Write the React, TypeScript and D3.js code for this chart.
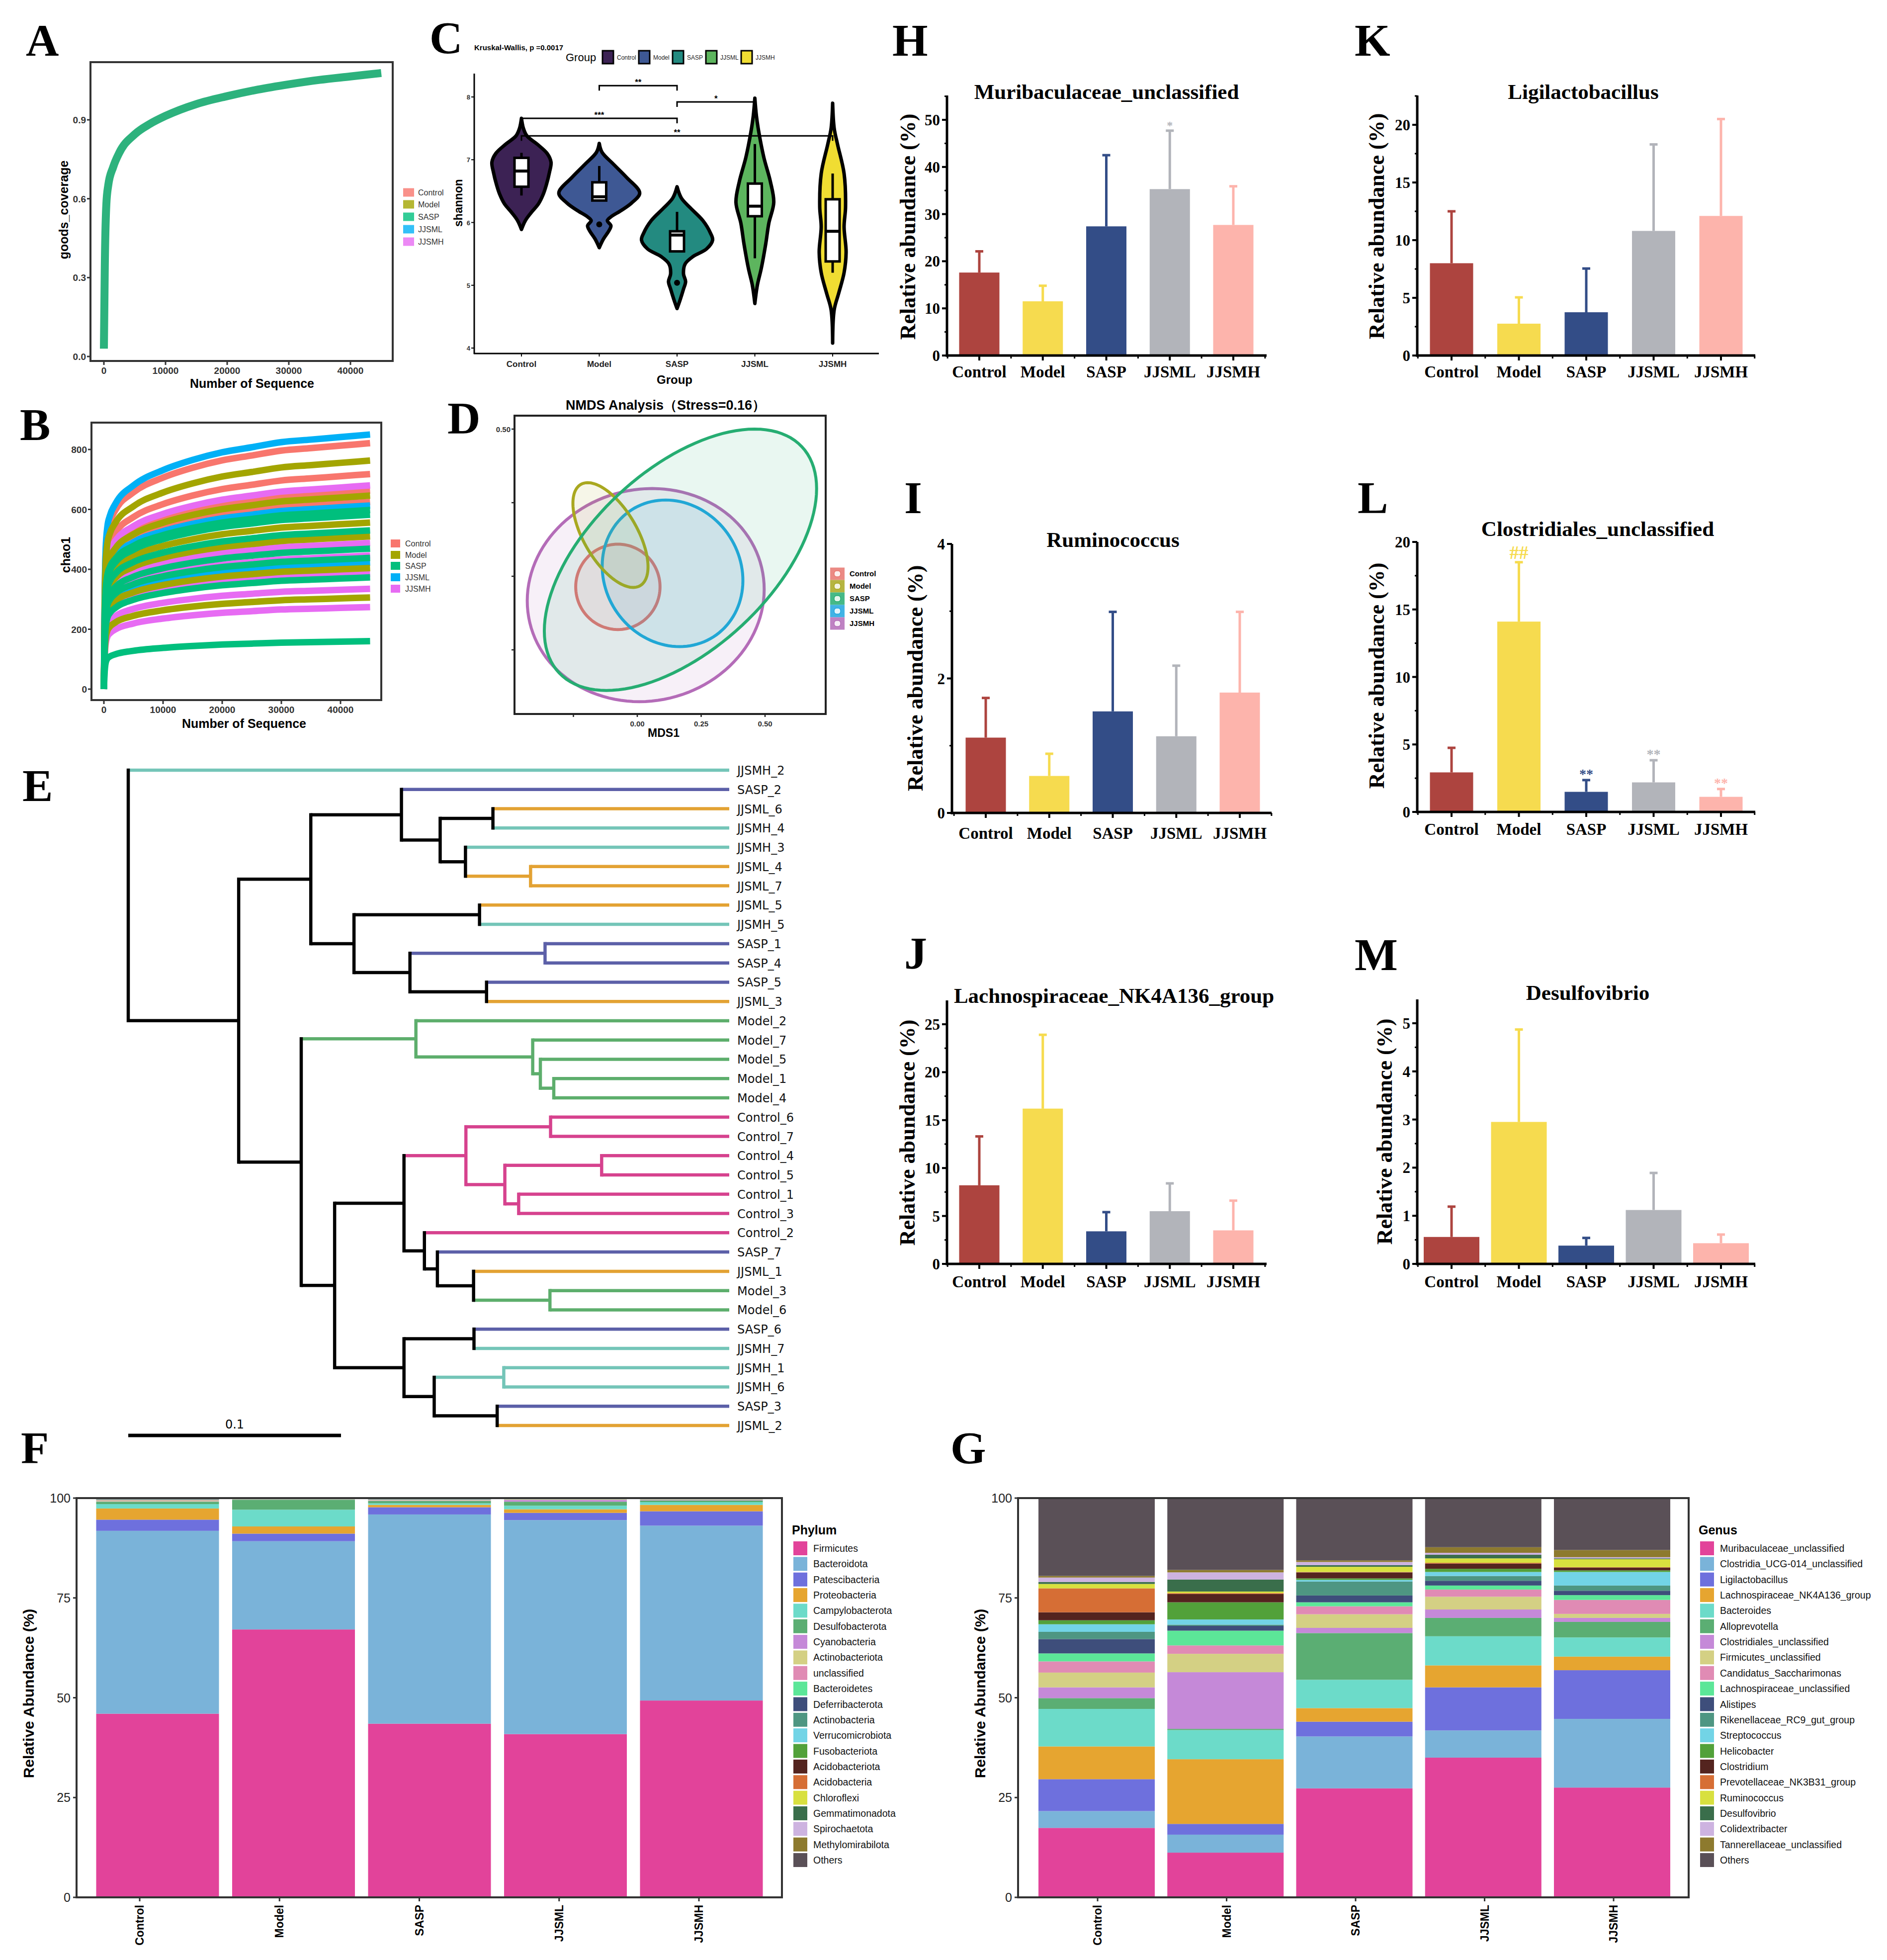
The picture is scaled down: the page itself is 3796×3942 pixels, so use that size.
import { useEffect, useRef } from "react";
import * as d3 from "d3";

const W = 3796;
const H = 3942;
const SANS = "'Liberation Sans', Arial, Helvetica, sans-serif";
const SERIF = "'Liberation Serif', 'Times New Roman', Times, serif";
const DEJAVU = "'DejaVu Sans', Verdana, sans-serif";

const GROUPS = ["Control", "Model", "SASP", "JJSML", "JJSMH"];
const GG_COLORS = ["#F8766D", "#A3A500", "#00BF7D", "#00B0F6", "#E76BF3"];

// ---------- A: Good's coverage rarefaction
const COV_SEQ = [0, 150, 400, 700, 1500, 2500, 5000, 7500, 10000, 15000, 20000, 25000, 30000, 35000, 40000, 45000];
const COV_VAL = [0.03, 0.35, 0.58, 0.65, 0.72, 0.775, 0.845, 0.885, 0.915, 0.96, 0.99, 1.015, 1.035, 1.052, 1.065, 1.078];
const SEQ_TICKS = [0, 10000, 20000, 30000, 40000];
const COV_TICKS = [0, 0.3, 0.6, 0.9];

// ---------- B: chao1 rarefaction (shared curve shape, end value per sample)
const RARE_SEQ = [0, 100, 300, 600, 1000, 2000, 5000, 10000, 15000, 20000, 25000, 30000, 35000, 40000, 45000];
const RARE_SHAPE = [0, 0.3, 0.55, 0.64, 0.68, 0.73, 0.8, 0.86, 0.9, 0.93, 0.95, 0.97, 0.98, 0.99, 1];
const CHAO_SAMPLE_GROUP = [
  "Control", "Control", "Control", "Control",
  "JJSMH", "JJSMH", "JJSMH", "JJSMH", "JJSMH", "JJSMH",
  "JJSML", "JJSML", "JJSML",
  "Model", "Model", "Model", "Model", "Model", "Model",
  "SASP", "SASP", "SASP", "SASP", "SASP", "SASP", "SASP",
];
const CHAO_END = [
  821, 718, 663, 625,
  680, 488, 446, 385, 335, 274,
  850, 613, 423,
  763, 646, 556, 510, 404, 306,
  598, 582, 530, 469, 438, 373, 160,
];
const CHAO_TICKS = [0, 200, 400, 600, 800];

// ---------- C: Shannon violins ([value, half width as share of category step])
const VIOLIN_FILL = ["#3C2254", "#3E5894", "#238A80", "#5DB55E", "#F0DD32"];
const VIOLINS = [
  [[7.66, 0], [7.5, 0.025], [7.38, 0.07], [7.25, 0.2], [7.1, 0.33], [6.96, 0.38], [6.8, 0.36], [6.6, 0.32], [6.45, 0.28], [6.3, 0.22], [6.15, 0.12], [6.03, 0.05], [5.89, 0]],
  [[7.26, 0], [7.12, 0.035], [6.92, 0.19], [6.72, 0.35], [6.47, 0.52], [6.31, 0.415], [6.19, 0.28], [6.09, 0.15], [6.03, 0.104], [5.95, 0.15], [5.87, 0.125], [5.74, 0.055], [5.6, 0]],
  [[6.57, 0], [6.39, 0.055], [6.23, 0.173], [6.03, 0.332], [5.83, 0.43], [5.72, 0.457], [5.58, 0.38], [5.46, 0.208], [5.34, 0.104], [5.18, 0.083], [5.06, 0.11], [4.94, 0.083], [4.77, 0.04], [4.63, 0]],
  [[7.98, 0], [7.7, 0.02], [7.44, 0.051], [7.04, 0.115], [6.65, 0.2], [6.32, 0.243], [5.99, 0.18], [5.66, 0.14], [5.27, 0.083], [5.0, 0.032], [4.71, 0]],
  [[7.9, 0], [7.5, 0.02], [7.24, 0.064], [6.78, 0.147], [6.25, 0.166], [5.93, 0.147], [5.53, 0.173], [5.2, 0.147], [4.87, 0.077], [4.61, 0.02], [4.08, 0]],
];
// [lower whisker, q1, median, q3, upper whisker]
const BOX_STATS = [
  [6.43, 6.57, 6.82, 7.03, 7.11],
  [6.35, 6.35, 6.41, 6.64, 6.9],
  [5.54, 5.54, 5.8, 5.86, 6.17],
  [5.43, 6.1, 6.26, 6.62, 7.25],
  [5.2, 5.38, 5.86, 6.37, 6.78],
];
const OUTLIERS = [[], [5.97], [5.04], [], []];
const SIG_FROM = ["Model", "SASP", "Control", "Control"];
const SIG_TO = ["SASP", "JJSML", "SASP", "JJSMH"];
const SIG_Y = [8.18, 7.92, 7.66, 7.38];
const SIG_LABEL = ["**", "*", "***", "**"];
const SHANNON_TICKS = [4, 5, 6, 7, 8];

// ---------- D: NMDS ellipses (centre, top point x-offset, half height, half width at centre)
const NMDS_COLORS = ["#E8756E", "#A9A81F", "#26AD72", "#21A6E0", "#B46CB8"];
const NMDS_CX = [-0.076, -0.105, 0.169, 0.138, 0.033];
const NMDS_CY = [-0.036, 0.14, 0.056, 0.01, -0.064];
const NMDS_TOPDX = [0, -0.089, 0.29, -0.027, 0.025];
const NMDS_RY = [0.145, 0.178, 0.444, 0.249, 0.362];
const NMDS_RX = [0.165, 0.117, 0.447, 0.274, 0.463];
const NMDS_DRAW_ORDER = ["Control", "JJSMH", "JJSML", "Model", "SASP"];
const NMDS_TICKS = [-0.25, 0, 0.25, 0.5];
const NMDS_Y_LABELS = ["", "", "", "0.50"];
const NMDS_X_LABELS = ["", "0.00", "0.25", "0.50"];

// ---------- E: clustering tree (node depth in tree units)
const nd = (d: number, ...c: any[]) => ({ d, c });
const lf = (name: string) => ({ name });
const TREE = nd(0,
  lf("JJSMH_2"),
  nd(0.0519,
    nd(0.0858,
      nd(0.1284,
        lf("SASP_2"),
        nd(0.1466,
          nd(0.1714, lf("JJSML_6"), lf("JJSMH_4")),
          nd(0.1585, lf("JJSMH_3"), nd(0.1891, lf("JJSML_4"), lf("JJSML_7"))))),
      nd(0.1061,
        nd(0.1651, lf("JJSML_5"), lf("JJSMH_5")),
        nd(0.1324,
          nd(0.1959, lf("SASP_1"), lf("SASP_4")),
          nd(0.1684, lf("SASP_5"), lf("JJSML_3"))))),
    nd(0.0813,
      nd(0.1352, lf("Model_2"), nd(0.1901, lf("Model_7"), nd(0.1937, lf("Model_5"), nd(0.2, lf("Model_1"), lf("Model_4"))))),
      nd(0.097,
        nd(0.1296,
          nd(0.1587,
            nd(0.1985, lf("Control_6"), lf("Control_7")),
            nd(0.177, nd(0.2225, lf("Control_4"), lf("Control_5")), nd(0.1835, lf("Control_1"), lf("Control_3")))),
          nd(0.1392, lf("Control_2"), nd(0.1453, lf("SASP_7"), nd(0.1623, lf("JJSML_1"), nd(0.1982, lf("Model_3"), lf("Model_6")))))),
        nd(0.1296,
          nd(0.1625, lf("SASP_6"), lf("JJSMH_7")),
          nd(0.1438, nd(0.1765, lf("JJSMH_1"), lf("JJSMH_6")), nd(0.1734, lf("SASP_3"), lf("JJSML_2"))))))));
const TREE_COLORS: Record<string, string> = {
  Control: "#D6428E", Model: "#5DAE6C", SASP: "#5C60A8", JJSML: "#E3A233", JJSMH: "#74C5B8",
};

// ---------- F / G: relative abundance stacks
const TAXA_COLORS = [
  "#E2439A", "#7AB3D9", "#6E70DD", "#E6A530", "#6CDBC9", "#5BAE73", "#C589D8", "#D4D084", "#E08BB4", "#5CE698",
  "#3E4E7B", "#4E9682", "#72D4E6", "#52A13A", "#54241F", "#D66E35", "#D8E03F", "#3A6E4B", "#CDB3E0", "#8D7A2E", "#5A5057",
];
const PHYLA = [
  "Firmicutes", "Bacteroidota", "Patescibacteria", "Proteobacteria", "Campylobacterota", "Desulfobacterota",
  "Cyanobacteria", "Actinobacteriota", "unclassified", "Bacteroidetes", "Deferribacterota", "Actinobacteria",
  "Verrucomicrobiota", "Fusobacteriota", "Acidobacteriota", "Acidobacteria", "Chloroflexi", "Gemmatimonadota",
  "Spirochaetota", "Methylomirabilota", "Others",
];
const PHYLUM_ABUND = [
  [46.0, 67.1, 43.5, 40.9, 49.3],
  [45.8, 22.1, 52.4, 53.6, 43.8],
  [2.8, 1.9, 1.8, 1.8, 3.6],
  [2.8, 1.8, 0.6, 0.9, 1.6],
  [1.1, 4.2, 0.4, 0.9, 0.7],
  [0.6, 2.5, 0.6, 1.0, 0.4],
  [0.1, 0.02, 0.1, 0.4, 0.1],
  [0.2, 0.05, 0.1, 0.1, 0.1],
  [0.1, 0.05, 0.1, 0.1, 0.1],
  [0.05, 0.03, 0.05, 0.05, 0.05],
  [0.05, 0.03, 0.05, 0.05, 0.05],
  [0.02, 0.02, 0.02, 0.02, 0.02],
  [0.02, 0.02, 0.02, 0.02, 0.02],
  [0.01, 0.01, 0.01, 0.01, 0.01],
  [0.01, 0.01, 0.01, 0.01, 0.01],
  [0.01, 0.01, 0.01, 0.01, 0.01],
  [0.01, 0.01, 0.01, 0.01, 0.01],
  [0.01, 0.01, 0.01, 0.01, 0.01],
  [0.01, 0.01, 0.01, 0.01, 0.01],
  [0.01, 0.01, 0.01, 0.01, 0.01],
  [0.29, 0.1, 0.19, 0.09, 0.09],
];
const GENERA = [
  "Muribaculaceae_unclassified", "Clostridia_UCG-014_unclassified", "Ligilactobacillus", "Lachnospiraceae_NK4A136_group",
  "Bacteroides", "Alloprevotella", "Clostridiales_unclassified", "Firmicutes_unclassified", "Candidatus_Saccharimonas",
  "Lachnospiraceae_unclassified", "Alistipes", "Rikenellaceae_RC9_gut_group", "Streptococcus", "Helicobacter",
  "Clostridium", "Prevotellaceae_NK3B31_group", "Ruminococcus", "Desulfovibrio", "Colidextribacter",
  "Tannerellaceae_unclassified", "Others",
];
const GENUS_ABUND = [
  [17.4, 11.2, 27.3, 35.0, 27.5],
  [4.2, 4.5, 13.0, 6.8, 17.2],
  [8.0, 2.7, 3.7, 10.8, 12.2],
  [8.2, 16.2, 3.4, 5.5, 3.4],
  [9.4, 7.3, 7.1, 7.3, 4.8],
  [2.7, 0.3, 11.7, 4.6, 3.9],
  [2.7, 14.2, 1.3, 2.1, 1.0],
  [3.7, 4.6, 3.4, 3.2, 1.0],
  [2.8, 2.1, 2.0, 1.8, 3.5],
  [2.0, 3.7, 1.0, 1.0, 1.2],
  [3.6, 1.2, 1.7, 1.2, 1.1],
  [1.8, 0.3, 3.5, 1.2, 1.3],
  [1.9, 1.3, 0.4, 1.0, 3.4],
  [1.0, 4.3, 0.4, 0.8, 0.4],
  [2.0, 2.1, 1.5, 1.3, 0.7],
  [6.0, 0.2, 0.1, 0.2, 0.1],
  [1.1, 0.4, 1.3, 1.1, 2.0],
  [0.5, 3.0, 0.4, 0.9, 0.2],
  [1.1, 1.8, 0.8, 0.5, 0.3],
  [0.4, 0.6, 0.4, 1.4, 1.8],
  [20.0, 18.0, 15.6, 12.3, 13.0],
];
const STACK_TICKS = [0, 25, 50, 75, 100];

// ---------- H-M: genus bar charts (mean, SD)
const BAR_COLORS = ["#AD443F", "#F6DB4F", "#334D87", "#B2B4BA", "#FDB4AC"];
const H_MEAN = [17.6, 11.5, 27.4, 35.3, 27.7];
const H_SD = [4.5, 3.3, 15.1, 12.4, 8.2];
const H_SIG = ["", "", "", "*", ""];
const K_MEAN = [8.0, 2.76, 3.75, 10.8, 12.1];
const K_SD = [4.5, 2.28, 3.79, 7.5, 8.4];
const I_MEAN = [1.12, 0.55, 1.51, 1.14, 1.79];
const I_SD = [0.59, 0.33, 1.48, 1.05, 1.2];
const L_MEAN = [2.93, 14.1, 1.49, 2.19, 1.12];
const L_SD = [1.82, 4.4, 0.87, 1.64, 0.58];
const L_SIG = ["", "##", "**", "**", "**"];
const J_MEAN = [8.2, 16.2, 3.4, 5.5, 3.5];
const J_SD = [5.1, 7.7, 2.0, 2.9, 3.1];
const M_MEAN = [0.56, 2.95, 0.38, 1.12, 0.43];
const M_SD = [0.63, 1.92, 0.16, 0.77, 0.18];

type Sel = any;

function txt(g: Sel, x: number, y: number, s: string, size: number, o: any = {}) {
  const t = g.append("text")
    .attr("x", x).attr("y", y)
    .attr("font-family", o.family ?? SANS)
    .attr("font-size", size)
    .attr("font-weight", o.weight ?? "normal")
    .attr("text-anchor", o.anchor ?? "start")
    .attr("fill", o.fill ?? "#000")
    .text(s);
  if (o.rotate) t.attr("transform", `rotate(${o.rotate},${x},${y})`);
  return t;
}

function seg(g: Sel, x1: number, y1: number, x2: number, y2: number, color: string, w: number, cap = "butt") {
  g.append("line").attr("x1", x1).attr("y1", y1).attr("x2", x2).attr("y2", y2)
    .attr("stroke", color).attr("stroke-width", w).attr("stroke-linecap", cap);
}

function legendSquares(g: Sel, x: number, ys: number[], w: number, h: number, op: number, textX: number) {
  GROUPS.forEach((grp, i) => {
    g.append("rect").attr("x", x).attr("y", ys[i] - h / 2).attr("width", w).attr("height", h)
      .attr("fill", GG_COLORS[i]).attr("fill-opacity", op);
    txt(g, textX, ys[i] + 6, grp, 16, { fill: "#333" });
  });
}

function drawA(svg: Sel) {
  const g = svg.append("g");
  const x = d3.scaleLinear().domain([0, 40000]).range([209, 705]);
  const y = d3.scaleLinear().domain([0, 0.9]).range([717, 241]);
  const line = d3.line<number>().x((_, i) => x(COV_SEQ[i])).y((d) => y(d)).curve(d3.curveMonotoneX);
  g.append("path").attr("d", line(COV_VAL)).attr("fill", "none").attr("stroke", "#2DB27D").attr("stroke-width", 16);
  g.append("rect").attr("x", 182).attr("y", 125).attr("width", 608).attr("height", 601)
    .attr("fill", "none").attr("stroke", "#333").attr("stroke-width", 4);
  SEQ_TICKS.forEach((v) => {
    seg(g, x(v), 728, x(v), 734, "#333", 3);
    txt(g, x(v), 752, String(v), 19, { anchor: "middle", weight: "bold", fill: "#333" });
  });
  COV_TICKS.forEach((v) => {
    seg(g, 175, y(v), 181, y(v), "#333", 3);
    txt(g, 173, y(v) + 7, v.toFixed(1), 19, { anchor: "end", weight: "bold", fill: "#333" });
  });
  txt(g, 507, 780, "Number of Sequence", 25, { anchor: "middle", weight: "bold" });
  txt(g, 137, 422, "goods_coverage", 25, { anchor: "middle", weight: "bold", rotate: -90 });
  legendSquares(g, 811, [387, 411, 436, 461, 486], 22, 17, 0.8, 841);
}

function drawB(svg: Sel) {
  const g = svg.append("g");
  const x = d3.scaleLinear().domain([0, 40000]).range([209, 685]);
  const y = d3.scaleLinear().domain([0, 800]).range([1386, 904]);
  CHAO_END.forEach((end, i) => {
    const col = GG_COLORS[GROUPS.indexOf(CHAO_SAMPLE_GROUP[i])];
    const line = d3.line<number>().x((_, k) => x(RARE_SEQ[k])).y((f) => y(f * end)).curve(d3.curveMonotoneX);
    g.append("path").attr("d", line(RARE_SHAPE)).attr("fill", "none").attr("stroke", col).attr("stroke-width", 13);
  });
  g.append("rect").attr("x", 184).attr("y", 850).attr("width", 583).attr("height", 558)
    .attr("fill", "none").attr("stroke", "#333").attr("stroke-width", 4);
  SEQ_TICKS.forEach((v) => {
    seg(g, x(v), 1410, x(v), 1416, "#333", 3);
    txt(g, x(v), 1434, String(v), 19, { anchor: "middle", weight: "bold", fill: "#333" });
  });
  CHAO_TICKS.forEach((v) => {
    seg(g, 177, y(v), 183, y(v), "#333", 3);
    txt(g, 175, y(v) + 7, String(v), 19, { anchor: "end", weight: "bold", fill: "#333" });
  });
  txt(g, 491, 1464, "Number of Sequence", 25, { anchor: "middle", weight: "bold" });
  txt(g, 141, 1116, "chao1", 25, { anchor: "middle", weight: "bold", rotate: -90 });
  legendSquares(g, 786, [1093, 1116, 1138, 1161, 1184], 19, 16, 1, 815);
}

function drawC(svg: Sel) {
  const g = svg.append("g");
  const x = d3.scalePoint<string>().domain(GROUPS).range([1049, 1675]);
  const y = d3.scaleLinear().domain([4, 8]).range([700, 195]);
  const step = x.step();
  GROUPS.forEach((grp, i) => {
    const c = x(grp)!;
    const area = d3.area<number[]>()
      .y((d) => y(d[0])).x0((d) => c - d[1] * step).x1((d) => c + d[1] * step)
      .curve(d3.curveCatmullRom.alpha(0.5));
    g.append("path").attr("d", area(VIOLINS[i] as number[][])).attr("fill", VIOLIN_FILL[i])
      .attr("stroke", "#000").attr("stroke-width", 7).attr("stroke-linejoin", "round");
    const [wl, q1, md, q3, wh] = BOX_STATS[i];
    seg(g, c, y(wh), c, y(wl), "#000", 5);
    g.append("rect").attr("x", c - 14).attr("y", y(q3)).attr("width", 28).attr("height", y(q1) - y(q3))
      .attr("fill", "#fff").attr("stroke", "#000").attr("stroke-width", 5);
    seg(g, c - 14, y(md), c + 14, y(md), "#000", 6);
    OUTLIERS[i].forEach((v) => g.append("circle").attr("cx", c).attr("cy", y(v)).attr("r", 6).attr("fill", "#000"));
  });
  // significance brackets
  SIG_LABEL.forEach((lab, i) => {
    const x1 = x(SIG_FROM[i])!;
    const x2 = x(SIG_TO[i])!;
    const yy = y(SIG_Y[i]);
    g.append("path").attr("d", `M${x1},${yy + 10}V${yy}H${x2}V${yy + 10}`)
      .attr("fill", "none").attr("stroke", "#000").attr("stroke-width", 3);
    txt(g, (x1 + x2) / 2, yy - 1, lab, 17, { anchor: "middle", weight: "bold" });
  });
  // axes
  seg(g, 954, 148, 954, 712, "#000", 3);
  seg(g, 953, 711, 1768, 711, "#000", 3);
  SHANNON_TICKS.forEach((v) => {
    seg(g, 948, y(v), 954, y(v), "#000", 2);
    txt(g, 946, y(v) + 5, String(v), 13, { anchor: "end", weight: "bold", fill: "#333" });
  });
  GROUPS.forEach((grp) => {
    seg(g, x(grp)!, 711, x(grp)!, 717, "#000", 2);
    txt(g, x(grp)!, 738, grp, 17, { anchor: "middle", weight: "bold", fill: "#222" });
  });
  txt(g, 1357, 772, "Group", 24, { anchor: "middle", weight: "bold" });
  txt(g, 930, 408, "shannon", 23, { anchor: "middle", weight: "bold", rotate: -90 });
  txt(g, 954, 101, "Kruskal-Wallis, p =0.0017", 15, { weight: "bold" });
  txt(g, 1138, 123, "Group", 22);
  const keyX = [1212, 1285, 1353, 1420, 1491];
  GROUPS.forEach((grp, i) => {
    g.append("rect").attr("x", keyX[i]).attr("y", 102).attr("width", 22).attr("height", 26)
      .attr("fill", VIOLIN_FILL[i]).attr("stroke", "#000").attr("stroke-width", 3);
    txt(g, keyX[i] + 29, 120, grp, 12, { fill: "#222" });
  });
}

function drawD(svg: Sel) {
  const g = svg.append("g");
  const x = d3.scaleLinear().domain([0, 0.5]).range([1282, 1539]);
  const y = d3.scaleLinear().domain([0, 0.5]).range([1159, 863]);
  const ts = d3.range(0, 361, 3).map((a) => (a * Math.PI) / 180);
  NMDS_DRAW_ORDER.forEach((grp) => {
    const i = GROUPS.indexOf(grp);
    const pts = ts.map((t) => [
      x(NMDS_CX[i] + NMDS_TOPDX[i] * Math.cos(t) + NMDS_RX[i] * Math.sin(t)),
      y(NMDS_CY[i] + NMDS_RY[i] * Math.cos(t)),
    ] as [number, number]);
    g.append("path").attr("d", d3.line()(pts) + "Z")
      .attr("fill", NMDS_COLORS[i]).attr("fill-opacity", 0.1)
      .attr("stroke", NMDS_COLORS[i]).attr("stroke-width", 6);
  });
  g.append("rect").attr("x", 1035).attr("y", 836).attr("width", 626).attr("height", 600)
    .attr("fill", "none").attr("stroke", "#222").attr("stroke-width", 4);
  NMDS_TICKS.forEach((v, k) => {
    seg(g, 1029, y(v), 1035, y(v), "#222", 2.5);
    if (NMDS_Y_LABELS[k]) txt(g, 1027, y(v) + 6, NMDS_Y_LABELS[k], 15, { anchor: "end", weight: "bold", fill: "#333" });
    seg(g, x(v), 1436, x(v), 1442, "#222", 2.5);
    if (NMDS_X_LABELS[k]) txt(g, x(v), 1461, NMDS_X_LABELS[k], 15, { anchor: "middle", weight: "bold", fill: "#333" });
  });
  txt(g, 1339, 824, "NMDS Analysis（Stress=0.16）", 27, { anchor: "middle", weight: "bold" });
  txt(g, 1335, 1482, "MDS1", 23, { anchor: "middle", weight: "bold" });
  GROUPS.forEach((grp, i) => {
    const yc = 1154 + i * 25;
    g.append("rect").attr("x", 1670).attr("y", yc - 12.5).attr("width", 29).attr("height", 25)
      .attr("fill", NMDS_COLORS[i]).attr("fill-opacity", 0.85);
    g.append("rect").attr("x", 1678).attr("y", yc - 6).attr("width", 13).attr("height", 12).attr("rx", 5)
      .attr("fill", "#fff").attr("fill-opacity", 0.85).attr("stroke", NMDS_COLORS[i]).attr("stroke-width", 1.5);
    txt(g, 1709, yc + 5, grp, 15, { weight: "bold" });
  });
}

function drawE(svg: Sel) {
  const g = svg.append("g");
  const root: any = d3.hierarchy<any>(TREE, (d: any) => d.c);
  const leaves = root.leaves();
  const ys = d3.scaleLinear().domain([0, leaves.length - 1]).range([1549, 2867]);
  const xs = d3.scaleLinear().domain([0, 0.1]).range([258, 686]);
  const leafX = 1467;
  leaves.forEach((n: any, i: number) => {
    n.px = leafX;
    n.py = ys(i);
    n.grp = n.data.name.split("_")[0];
  });
  root.eachAfter((n: any) => {
    if (!n.children) return;
    n.px = xs(n.data.d);
    n.py = (n.children[0].py + n.children[n.children.length - 1].py) / 2;
    const set = new Set(n.children.map((c: any) => c.grp));
    n.grp = set.size === 1 && !set.has(null) ? [...set][0] : null;
  });
  const col = (n: any) => (n.grp ? TREE_COLORS[n.grp] : "#000");
  root.descendants().forEach((n: any) => {
    if (n.parent) seg(g, n.parent.px, n.py, n.px, n.py, col(n), 6.5);
  });
  root.descendants().forEach((n: any) => {
    if (n.children) seg(g, n.px, n.children[0].py, n.px, n.children[n.children.length - 1].py, col(n), 6.5, "square");
  });
  leaves.forEach((n: any) => txt(g, 1483, n.py + 9, n.data.name, 24, { family: DEJAVU, fill: "#111" }));
  seg(g, xs(0), 2887, xs(0.1), 2887, "#000", 7);
  txt(g, (xs(0) + xs(0.1)) / 2, 2873, "0.1", 24, { anchor: "middle", family: DEJAVU });
}

function drawStack(svg: Sel, p: any) {
  const g = svg.append("g");
  const x = d3.scalePoint<string>().domain(GROUPS).range([p.c0, p.c1]);
  const xt = d3.scalePoint<string>().domain(GROUPS).range([p.t0, p.t1]);
  const y = d3.scaleLinear().domain([0, 100]).range([3816, 3013]);
  const rows = GROUPS.map((grp, gi) => {
    const o: any = { group: grp };
    p.names.forEach((nm: string, ni: number) => (o[nm] = p.values[ni][gi]));
    return o;
  });
  const series = d3.stack<any>().keys(p.names)(rows);
  series.forEach((s: any, si: number) => {
    g.append("g").attr("fill", TAXA_COLORS[si]).selectAll("rect").data(s).join("rect")
      .attr("x", (d: any) => x(d.data.group)! - p.bw / 2).attr("width", p.bw)
      .attr("y", (d: any) => y(Math.min(d[1], 100))).attr("height", (d: any) => Math.max(0, y(d[0]) - y(Math.min(d[1], 100))));
  });
  g.append("rect").attr("x", p.x0).attr("y", 3013).attr("width", p.x1 - p.x0).attr("height", 803)
    .attr("fill", "none").attr("stroke", "#333").attr("stroke-width", 4);
  STACK_TICKS.forEach((v) => {
    seg(g, p.x0 - 7, y(v), p.x0, y(v), "#333", 3);
    txt(g, p.tickRight, y(v) + 9, String(v), 25, { anchor: "end", fill: "#222" });
  });
  GROUPS.forEach((grp) => {
    seg(g, xt(grp)!, 3816, xt(grp)!, 3824, "#333", 3);
    txt(g, xt(grp)! + 8, 3831, grp, 23, { anchor: "end", weight: "bold", rotate: -90 });
  });
  txt(g, p.yTitleX, 3406, "Relative Abundance (%)", 30, { anchor: "middle", weight: "bold", rotate: -90 });
  txt(g, p.legendX - 3, 3086, p.title, 25, { weight: "bold" });
  p.names.forEach((nm: string, i: number) => {
    const yc = 3114 + i * 31.35;
    g.append("rect").attr("x", p.legendX).attr("y", yc - 14).attr("width", 28).attr("height", 28).attr("fill", TAXA_COLORS[i]);
    txt(g, p.legendX + 40, yc + 7, nm, 19.5, { fill: "#111" });
  });
}

function drawBars(svg: Sel, p: any) {
  const g = svg.append("g");
  const x = d3.scalePoint<string>().domain(GROUPS).range([p.c0, p.c0 + 4 * p.step]);
  const y = d3.scaleLinear().domain([0, p.tMax]).range([p.y0, p.tMaxPx]);
  GROUPS.forEach((grp, i) => {
    const c = x(grp)!;
    const m = p.mean[i];
    const top = m + p.sd[i];
    seg(g, c, y(m), c, y(top), BAR_COLORS[i], 5);
    seg(g, c - 8, y(top), c + 8, y(top), BAR_COLORS[i], 5);
    g.append("rect").attr("x", c - p.bw / 2).attr("y", y(m)).attr("width", p.bw).attr("height", y(0) - y(m)).attr("fill", BAR_COLORS[i]);
    if (p.sig && p.sig[i]) {
      const isHash = p.sig[i].includes("#");
      txt(g, c, y(top) + (isHash ? -7 : -3), p.sig[i], isHash ? 38 : p.sigSize, { anchor: "middle", weight: "bold", family: SERIF, fill: BAR_COLORS[i] });
    }
  });
  seg(g, p.ax, p.top, p.ax, p.y0 + 2.5, "#000", 5);
  seg(g, p.ax - 2.5, p.y0, p.right, p.y0, "#000", 5);
  const ticks = d3.range(0, p.tMax + 1e-9, p.tStep);
  ticks.forEach((v: number) => {
    seg(g, p.ax - 10, y(v), p.ax, y(v), "#000", 4);
    txt(g, p.ax - 14, y(v) + 11, String(v), 31, { anchor: "end", weight: "bold", family: SERIF });
    const mv = v + p.tStep / 2;
    if (y(mv) > p.top) seg(g, p.ax - 5, y(mv), p.ax, y(mv), "#000", 3);
  });
  GROUPS.forEach((grp, i) => {
    const c = x(grp)!;
    seg(g, c, p.y0, c, p.y0 + 10, "#000", 4);
    seg(g, c + p.step / 2, p.y0, c + p.step / 2, p.y0 + 6, "#000", 3);
    if (i === 0) seg(g, c - p.step / 2, p.y0, c - p.step / 2, p.y0 + 6, "#000", 3);
    txt(g, c, p.labelY, grp, 33, { anchor: "middle", weight: "bold", family: SERIF });
  });
  txt(g, p.titleX, p.titleY, p.title, 43, { anchor: "middle", weight: "bold", family: SERIF });
  txt(g, p.ytX, p.ytY, "Relative abundance (%)", 44, { anchor: "middle", weight: "bold", family: SERIF, rotate: -90 });
}

const LEFT_BARS = { ax: 1905, right: 2548, c0: 1970, step: 127.75, bw: 81 };
const RIGHT_BARS = { ax: 2851, right: 3531, c0: 2920, step: 135.5, bw: 87 };
const BAR_PANELS = [
  { ...LEFT_BARS, title: "Muribaculaceae_unclassified", mean: H_MEAN, sd: H_SD, sig: H_SIG, sigSize: 24, y0: 715, top: 192, tMax: 50, tMaxPx: 241, tStep: 10, labelY: 759, titleX: 2226, titleY: 199, ytX: 1841, ytY: 456 },
  { ...RIGHT_BARS, title: "Ligilactobacillus", mean: K_MEAN, sd: K_SD, y0: 715, top: 192, tMax: 20, tMaxPx: 251, tStep: 5, labelY: 759, titleX: 3185, titleY: 199, ytX: 2784, ytY: 455 },
  { ...LEFT_BARS, ax: 1915, right: 2558, c0: 1983, title: "Ruminococcus", mean: I_MEAN, sd: I_SD, y0: 1635, top: 1094, tMax: 4, tMaxPx: 1094, tStep: 2, labelY: 1687, titleX: 2239, titleY: 1100, ytX: 1856, ytY: 1364 },
  { ...RIGHT_BARS, title: "Clostridiales_unclassified", mean: L_MEAN, sd: L_SD, sig: L_SIG, sigSize: 28, y0: 1633, top: 1090, tMax: 20, tMaxPx: 1090, tStep: 5, labelY: 1679, titleX: 3214, titleY: 1078, ytX: 2784, ytY: 1359 },
  { ...LEFT_BARS, title: "Lachnospiraceae_NK4A136_group", mean: J_MEAN, sd: J_SD, y0: 2542, top: 2012, tMax: 25, tMaxPx: 2060, tStep: 5, labelY: 2589, titleX: 2241, titleY: 2017, ytX: 1840, ytY: 2278 },
  { ...RIGHT_BARS, bw: 112, title: "Desulfovibrio", mean: M_MEAN, sd: M_SD, y0: 2542, top: 2010, tMax: 5, tMaxPx: 2058, tStep: 1, labelY: 2589, titleX: 3194, titleY: 2011, ytX: 2800, ytY: 2276 },
];

const LETTERS = ["A", "B", "C", "D", "E", "F", "G", "H", "K", "I", "L", "J", "M"];
const LETTER_POS = [
  [52, 112], [40, 885], [864, 107], [900, 872], [45, 1611], [42, 2943], [1912, 2943],
  [1795, 112], [2725, 112], [1819, 1032], [2731, 1032], [1819, 1948], [2725, 1951],
];

export default function App() {
  const ref = useRef<SVGSVGElement>(null);
  useEffect(() => {
    const svg = d3.select(ref.current);
    svg.selectAll("*").remove();
    svg.append("rect").attr("width", W).attr("height", H).attr("fill", "#fff");
    drawA(svg);
    drawB(svg);
    drawC(svg);
    drawD(svg);
    drawE(svg);
    drawStack(svg, { names: PHYLA, values: PHYLUM_ABUND, title: "Phylum", c0: 317, c1: 1411, t0: 281, t1: 1406, bw: 247, x0: 154, x1: 1573, tickRight: 142, yTitleX: 68, legendX: 1596 });
    drawStack(svg, { names: GENERA, values: GENUS_ABUND, title: "Genus", c0: 2206, c1: 3243, t0: 2208, t1: 3246, bw: 234, x0: 2048, x1: 3397, tickRight: 2036, yTitleX: 1982, legendX: 3420 });
    BAR_PANELS.forEach((p) => drawBars(svg, p));
    LETTERS.forEach((l, i) => txt(svg, LETTER_POS[i][0], LETTER_POS[i][1], l, 92, { family: SERIF, weight: "bold" }));
  }, []);
  return <svg ref={ref} width={W} height={H} style={{ position: "absolute", left: 0, top: 0, display: "block" }} />;
}
